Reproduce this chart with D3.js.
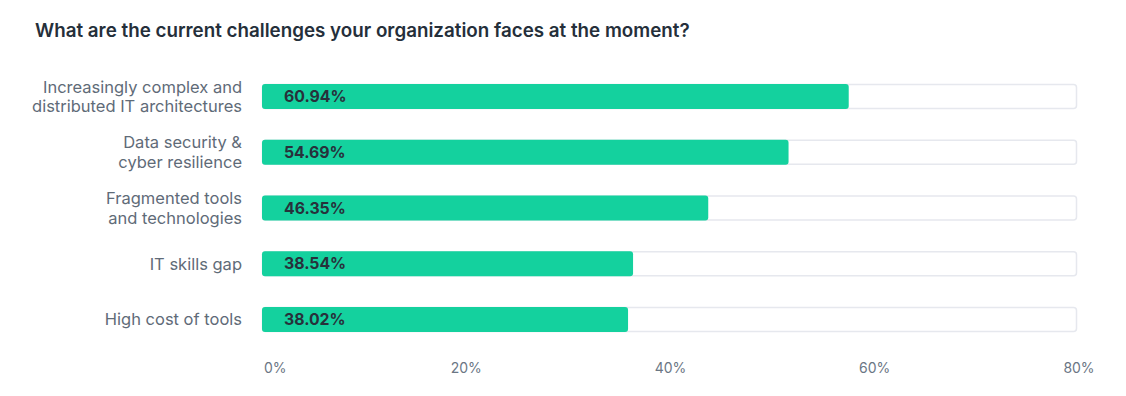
<!DOCTYPE html>
<html>
<head>
<meta charset="utf-8">
<script src="https://cdn.jsdelivr.net/npm/d3@7"></script>
<style>
  body { margin: 0; background: #fff; }
  svg text { font-family: Inter, "Noto Sans", sans-serif; }
</style>
</head>
<body>
<div id="chart"></div>
<script>
// data
var categories = [
  ["Increasingly complex and", "distributed IT architectures"],
  ["Data security &", "cyber resilience"],
  ["Fragmented tools", "and technologies"],
  ["IT skills gap"],
  ["High cost of tools"]
];
var values = [60.94, 54.69, 46.35, 38.54, 38.02];
var tickLabels = ["0%", "20%", "40%", "60%", "80%"];

var width = 1126, height = 396;

var svg = d3.select("#chart").append("svg")
  .attr("width", width)
  .attr("height", height);

// title
svg.append("text")
  .attr("x", 35)
  .attr("y", 37)
  .attr("font-size", 18.8)
  .attr("font-weight", 600)
  .attr("fill", "#252f3a")
  .text("What are the current challenges your organization faces at the moment?");

// bar track spans 262..1077, bars scale ~9.63px per percent
var x = d3.scaleLinear().domain([0, 84.65]).range([262, 1077]);
var y = d3.scaleBand().domain(d3.range(values.length)).range([70, 346]).paddingInner(0.55).paddingOuter(0.25);

var rows = svg.selectAll("g.row")
  .data(values)
  .enter().append("g")
  .attr("class", "row")
  .attr("transform", function(d, i) { return "translate(0," + y(i) + ")"; });

// background track
rows.append("rect")
  .attr("x", x(0) + 0.5)
  .attr("y", 0.5)
  .attr("width", x.range()[1] - x(0) - 1)
  .attr("height", y.bandwidth() - 1)
  .attr("rx", 3)
  .attr("fill", "#fff")
  .attr("stroke", "#e6e8ee")
  .attr("stroke-width", 1.5);

// value bar
rows.append("rect")
  .attr("x", x(0))
  .attr("y", 0)
  .attr("width", function(d) { return x(d) - x(0); })
  .attr("height", y.bandwidth())
  .attr("rx", 3)
  .attr("fill", "#14d19e");

// value label
rows.append("text")
  .attr("x", x(0) + 22)
  .attr("y", y.bandwidth() / 2)
  .attr("dy", "0.36em")
  .attr("font-size", 15.8)
  .attr("font-weight", 700)
  .attr("fill", "#27313b")
  .text(function(d) { return d.toFixed(2) + "%"; });

// category labels, right aligned
rows.append("text")
  .attr("text-anchor", "end")
  .attr("font-size", 16.5)
  .attr("fill", "#5f6b78")
  .each(function(d, i) {
    var lines = categories[i];
    var t = d3.select(this);
    var lh = 19.5;
    var start = y.bandwidth() / 2 - (lines.length - 1) * lh / 2;
    lines.forEach(function(line, j) {
      t.append("tspan")
        .attr("x", 242)
        .attr("y", start + j * lh)
        .attr("dy", "0.35em")
        .text(line);
    });
  });

// bottom tick labels; the first one is left aligned to the track start
var ax = d3.scalePoint().domain(tickLabels).range([262, 1079]);
svg.selectAll("text.tick")
  .data(tickLabels)
  .enter().append("text")
  .attr("class", "tick")
  .attr("x", function(d, i) { return i === 0 ? ax(d) + 2 : ax(d); })
  .attr("y", 373)
  .attr("text-anchor", function(d, i) { return i === 0 ? "start" : "middle"; })
  .attr("font-size", 14)
  .attr("fill", "#6b7684")
  .text(function(d) { return d; });
</script>
</body>
</html>
